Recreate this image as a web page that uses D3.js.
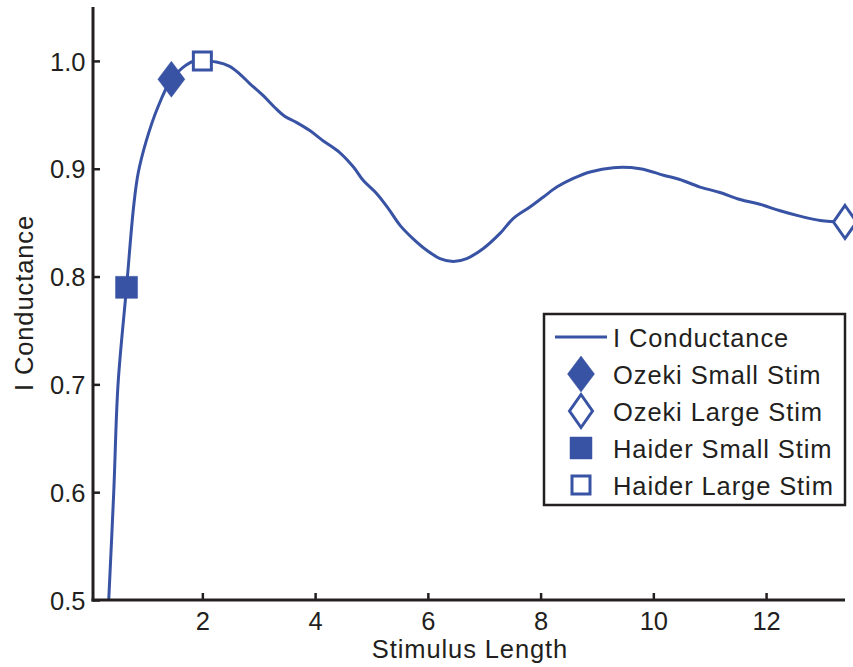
<!DOCTYPE html>
<html>
<head>
<meta charset="utf-8">
<script src="https://cdn.jsdelivr.net/npm/d3@7"></script>
<style>
  html, body { margin: 0; padding: 0; background: #fff; }
  svg { display: block; }
  text { font-family: "Liberation Sans", Arial, Helvetica, sans-serif; fill: #231f20; }
</style>
</head>
<body>
<svg id="chart" width="853" height="667"></svg>
<script>
// Inhibitory conductance as a function of stimulus length
const lengthValues = [0.339, 0.428, 0.504, 0.655, 0.78, 0.86, 1.006, 1.21, 1.45, 1.657, 1.834, 2.0, 2.248,
  2.485, 2.66, 2.84, 3.076, 3.28, 3.46, 3.667, 3.9, 4.14, 4.437, 4.68, 4.856, 5.09, 5.3, 5.507, 5.74,
  5.98, 6.216, 6.45, 6.69, 6.984, 7.28, 7.517, 7.81, 8.05, 8.287, 8.58, 8.877, 9.29, 9.765, 10.18,
  10.47, 10.83, 11.18, 11.54, 11.89, 12.25, 12.6, 12.96, 13.4];
const conductanceValues = [0.500, 0.600, 0.700, 0.790, 0.8645, 0.8955, 0.926, 0.957, 0.983, 0.994, 0.9995, 1.000, 0.999,
  0.995, 0.988, 0.979, 0.968, 0.957, 0.9486, 0.943, 0.9356, 0.926, 0.915, 0.9016, 0.889, 0.877, 0.863, 0.8475, 0.835,
  0.8244, 0.8167, 0.814, 0.8167, 0.826, 0.840, 0.854, 0.8645, 0.8738, 0.883, 0.891, 0.897, 0.901, 0.900, 0.894,
  0.890, 0.883, 0.878, 0.8714, 0.867, 0.861, 0.856, 0.852, 0.8506];

// Experimental reference points
const markerNames = ["Ozeki Small Stim", "Ozeki Large Stim", "Haider Small Stim", "Haider Large Stim"];
const markerLength = [1.45, 13.4, 0.655, 2.0];
const markerConductance = [0.983, 0.8506, 0.790, 1.0];
const markerShape = ["diamond", "diamond", "square", "square"];
const markerFilled = [true, false, true, false];

const lineName = "I Conductance";
const xTicks = [2, 4, 6, 8, 10, 12];
const yTicks = [0.5, 0.6, 0.7, 0.8, 0.9, 1.0];
const xTitle = "Stimulus Length";
const yTitle = "I Conductance";

const blue = "#3953a4";
const ink = "#231f20";

const svg = d3.select("#chart");
const plotLeft = 93, plotRight = 845, plotTop = 7, plotBottom = 600;

const x = d3.scaleLinear().domain([0.06, 13.4]).range([plotLeft, plotRight]);
const y = d3.scaleLinear().domain([0.5, 1.05]).range([plotBottom, plotTop]);

// clip for the curve
svg.append("defs").append("clipPath").attr("id", "plotClip")
  .append("rect").attr("x", plotLeft).attr("y", plotTop)
  .attr("width", plotRight - plotLeft).attr("height", plotBottom - plotTop);

// curve
const pts = lengthValues.map((v, i) => [v, conductanceValues[i]]);
svg.append("path")
  .datum(pts)
  .attr("clip-path", "url(#plotClip)")
  .attr("fill", "none")
  .attr("stroke", blue)
  .attr("stroke-width", 3)
  .attr("stroke-linejoin", "round")
  .attr("d", d3.line().x(d => x(d[0])).y(d => y(d[1])).curve(d3.curveCatmullRom.alpha(0.5)));

// marker shapes
function markerPath(shape, filled) {
  const p = d3.path();
  if (shape === "diamond") {
    const hw = filled ? 13.5 : 11.5, hh = filled ? 18 : 16.5;
    p.moveTo(0, -hh); p.lineTo(hw, 0); p.lineTo(0, hh); p.lineTo(-hw, 0); p.closePath();
  } else {
    const h = filled ? 11 : 9;
    p.rect(-h, -h, 2 * h, 2 * h);
  }
  return p.toString();
}
function drawMarker(g, shape, filled) {
  g.append("path")
    .attr("d", markerPath(shape, filled))
    .attr("fill", filled ? blue : "#fff")
    .attr("stroke", blue)
    .attr("stroke-width", filled ? 0.5 : 3)
    .attr("stroke-linejoin", "miter");
}

markerNames.forEach((name, i) => {
  const g = svg.append("g")
    .attr("transform", `translate(${x(markerLength[i])},${y(markerConductance[i])})`);
  drawMarker(g, markerShape[i], markerFilled[i]);
});

// axes
const xAxis = d3.axisBottom(x).tickValues(xTicks).tickFormat(d3.format("d")).tickSizeInner(-7).tickSizeOuter(0).tickPadding(12);
const yAxis = d3.axisLeft(y).tickValues(yTicks).tickFormat(d3.format(".1f")).tickSizeInner(-7).tickSizeOuter(0).tickPadding(7.5);

const gx = svg.append("g").attr("transform", `translate(0,${plotBottom})`).call(xAxis);
const gy = svg.append("g").attr("transform", `translate(${plotLeft},0)`).call(yAxis);

[gx, gy].forEach(g => {
  g.select(".domain").attr("stroke", ink).attr("stroke-width", 3);
  g.selectAll(".tick line").attr("stroke", ink).attr("stroke-width", 2.5);
  g.selectAll(".tick text").attr("fill", ink).style("font-size", "25.5px")
    .style("font-family", '"Liberation Sans", Arial, Helvetica, sans-serif');
});
gx.select(".domain").attr("d", `M${plotLeft - 1.5},0H${plotRight}`);
gy.select(".domain").attr("d", `M0,${plotTop}V${plotBottom + 1.5}`);
gy.selectAll(".tick text").attr("dy", "0.36em");

// axis titles
svg.append("text")
  .attr("x", 470).attr("y", 658)
  .attr("text-anchor", "middle")
  .style("font-size", "25.5px").style("letter-spacing", "0.9px")
  .text(xTitle);
svg.append("text")
  .attr("transform", "translate(33,303) rotate(-90)")
  .attr("text-anchor", "middle")
  .style("font-size", "25.5px").style("letter-spacing", "0.9px")
  .text(yTitle);

// legend
const legend = svg.append("g");
legend.append("rect")
  .attr("x", 544).attr("y", 314).attr("width", 301).attr("height", 191)
  .attr("fill", "#fff").attr("stroke", ink).attr("stroke-width", 2.5);

const rowY = d3.scalePoint().domain([lineName, ...markerNames]).range([337, 485]);
legend.append("line")
  .attr("x1", 555).attr("x2", 607)
  .attr("y1", rowY(lineName)).attr("y2", rowY(lineName))
  .attr("stroke", blue).attr("stroke-width", 3);
legend.append("text")
  .attr("x", 613).attr("y", rowY(lineName) + 9.5)
  .style("font-size", "25.5px").style("letter-spacing", "0.9px")
  .text(lineName);

markerNames.forEach((name, i) => {
  const g = legend.append("g").attr("transform", `translate(581,${rowY(name)})`);
  drawMarker(g, markerShape[i], markerFilled[i]);
  legend.append("text")
    .attr("x", 613).attr("y", rowY(name) + 9.5)
    .style("font-size", "25.5px").style("letter-spacing", "0.9px")
    .text(name);
});
</script>
</body>
</html>
